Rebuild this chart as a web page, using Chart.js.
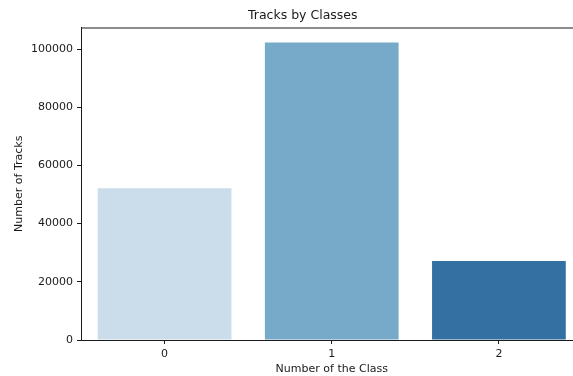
<!DOCTYPE html>
<html>
<head>
<meta charset="utf-8">
<script src="https://cdn.jsdelivr.net/npm/chart.js@4/dist/chart.umd.min.js"></script>
<style>
  html, body { margin: 0; padding: 0; background: #fff; overflow: hidden; }
  #wrap { width: 600px; height: 376px; }
</style>
</head>
<body>
<div id="wrap"><canvas id="chart" width="600" height="376"></canvas></div>
<script>
// data
const classLabels = ['0', '1', '2'];
const trackCounts = [52200, 102300, 27150];
const barColors = ['#cbdcea', '#77aac8', '#3470a2'];
const yTickValues = [0, 20000, 40000, 60000, 80000, 100000];

const FONT = "'DejaVu Sans', sans-serif";
const INK = '#1a1a1a';

// top + right spine like matplotlib
const framePlugin = {
    id: 'frame',
    afterDraw(chart) {
        const { ctx, chartArea: a } = chart;
        ctx.save();
        ctx.strokeStyle = INK;
        ctx.lineWidth = 1;
        ctx.beginPath();
        ctx.moveTo(a.left, a.top + 0.5);
        ctx.lineTo(a.right, a.top + 0.5);
        ctx.lineTo(a.right, a.bottom);
        ctx.stroke();
        ctx.restore();
    }
};

const yMax = Math.round(Math.max(...trackCounts) * 1.05);

new Chart(document.getElementById('chart').getContext('2d'), {
    type: 'bar',
    data: {
        labels: classLabels,
        datasets: [{
            data: trackCounts,
            backgroundColor: barColors,
            borderWidth: 0,
            categoryPercentage: 1,
            barPercentage: 0.8
        }]
    },
    options: {
        responsive: false,
        animation: false,
        devicePixelRatio: 1,
        layout: { padding: { left: 23, right: 17.5, top: 0, bottom: 0 } },
        plugins: {
            legend: { display: false },
            tooltip: { enabled: false },
            title: {
                display: true,
                text: 'Tracks by Classes',
                color: INK,
                font: { family: FONT, size: 12.5, weight: 'normal' },
                padding: { top: 8.5, bottom: 4 }
            }
        },
        scales: {
            x: {
                grid: { drawOnChartArea: false, offset: false, tickLength: 4, color: INK, tickColor: INK },
                border: { display: true, color: INK, width: 1 },
                ticks: { color: INK, font: { family: FONT, size: 11 }, padding: 4 },
                title: {
                    display: true,
                    text: 'Number of the Class',
                    color: INK,
                    font: { family: FONT, size: 11 },
                    padding: { top: 0, bottom: 0.4 }
                },
                afterFit(scale) { scale.height = 36; }
            },
            y: {
                min: 0,
                max: yMax,
                grid: { drawOnChartArea: false, tickLength: 4, color: INK, tickColor: INK },
                border: { display: true, color: INK, width: 1 },
                ticks: {
                    color: INK,
                    font: { family: FONT, size: 11 },
                    padding: 4,
                    autoSkip: false,
                    callback: v => String(v)
                },
                afterBuildTicks(scale) {
                    scale.ticks = yTickValues.map(v => ({ value: v }));
                },
                title: {
                    display: true,
                    text: 'Number of Tracks',
                    color: INK,
                    font: { family: FONT, size: 11 },
                    padding: { top: -10.6, bottom: 0 }
                },
                afterFit(scale) { scale.width = 58; }
            }
        }
    },
    plugins: [framePlugin]
});
</script>
</body>
</html>
